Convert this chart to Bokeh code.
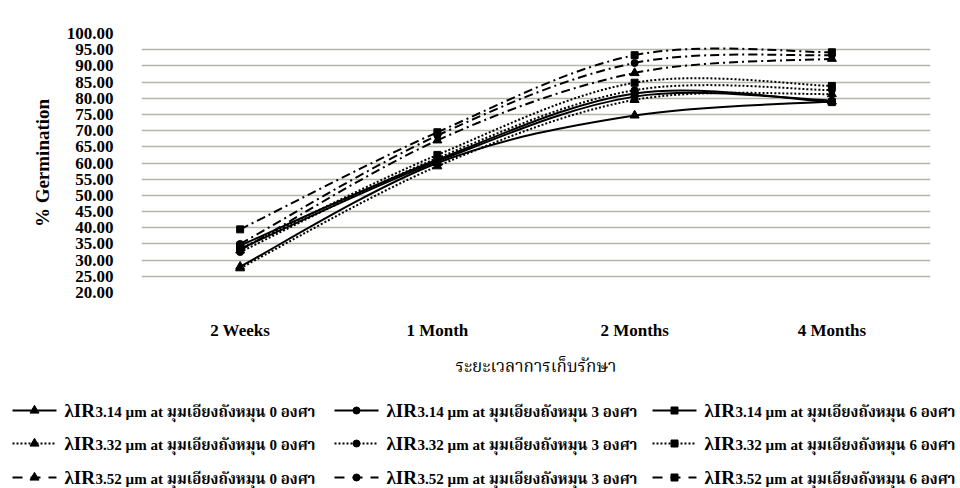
from bokeh.plotting import figure
from bokeh.models import Range1d, FixedTicker, NumeralTickFormatter
from bokeh.embed import file_html
from bokeh.resources import INLINE
from bokeh.core.properties import value

# Storage periods (categories) and their positions on the x axis
periods = ["2 Weeks", "1 Month", "2 Months", "4 Months"]
period_pos = [0.5, 1.5, 2.5, 3.5]

# % germination for each wavelength / drum tilt angle
g314_0 = [28.0, 60.0, 74.7, 79.0]
g314_3 = [33.5, 60.5, 80.5, 79.3]
g314_6 = [34.5, 61.0, 81.5, 78.8]
g332_0 = [27.5, 59.0, 79.5, 81.3]
g332_3 = [32.5, 61.5, 82.5, 82.5]
g332_6 = [33.5, 62.5, 84.8, 83.8]
g352_0 = [33.0, 67.0, 87.8, 92.2]
g352_3 = [35.0, 68.5, 90.9, 93.3]
g352_6 = [39.5, 69.5, 93.3, 94.2]

wavelengths = ["3.14", "3.32", "3.52"]
angles = ["0", "3", "6"]
series = [
    [g314_0, g314_3, g314_6],
    [g332_0, g332_3, g332_6],
    [g352_0, g352_3, g352_6],
]

y_ticks = [20 + 5 * i for i in range(17)]

SERIF = "Liberation Serif"
THAI = "'Liberation Serif', 'Noto Serif Thai', 'Noto Sans Thai', 'Loma', 'Garuda', sans-serif"

dash_by_wl = ["solid", "2 2", "9 4 2 4"]
legend_dash = ["solid", "2 2", "10 8"]
marker_by_angle = ["triangle", "circle", "square"]
marker_size = [9, 7, 7]


def smooth_segments(xs, ys):
    """Cubic Bezier pieces through the points (Catmull-Rom tangents)."""
    n = len(xs)
    out = dict(x0=[], y0=[], x1=[], y1=[], cx0=[], cy0=[], cx1=[], cy1=[])
    for i in range(n - 1):
        a = max(i - 1, 0)
        d = min(i + 2, n - 1)
        out["x0"].append(xs[i]); out["y0"].append(ys[i])
        out["x1"].append(xs[i + 1]); out["y1"].append(ys[i + 1])
        out["cx0"].append(xs[i] + (xs[i + 1] - xs[a]) / 6.0)
        out["cy0"].append(ys[i] + (ys[i + 1] - ys[a]) / 6.0)
        out["cx1"].append(xs[i + 1] - (xs[d] - xs[i]) / 6.0)
        out["cy1"].append(ys[i + 1] - (ys[d] - ys[i]) / 6.0)
    return out


p = figure(width=960, height=392, x_range=Range1d(0, 4), y_range=Range1d(20, 100),
           output_backend="svg", toolbar_location=None,
           min_border_left=141, min_border_right=30, min_border_top=33, min_border_bottom=100)
p.outline_line_color = None
p.background_fill_color = "white"
p.border_fill_color = "white"

p.xgrid.grid_line_color = None
p.ygrid.ticker = FixedTicker(ticks=y_ticks)
p.ygrid.grid_line_color = "#b4b4ac"
p.ygrid.grid_line_width = 1.4

p.yaxis.ticker = FixedTicker(ticks=y_ticks)
p.yaxis.formatter = NumeralTickFormatter(format="0.00")
p.yaxis.axis_line_color = None
p.yaxis.major_tick_line_color = None
p.yaxis.minor_tick_line_color = None
p.yaxis.major_label_standoff = 22
p.yaxis.major_label_text_font = SERIF
p.yaxis.major_label_text_font_style = "bold"
p.yaxis.major_label_text_font_size = "17px"
p.yaxis.major_label_text_color = "black"
p.yaxis.axis_label = "% Germination"
p.yaxis.axis_label_text_font = SERIF
p.yaxis.axis_label_text_font_style = "bold"
p.yaxis.axis_label_text_font_size = "19px"
p.yaxis.axis_label_text_color = "black"
p.yaxis.axis_label_standoff = 11

p.xaxis.ticker = FixedTicker(ticks=period_pos)
p.xaxis.major_label_overrides = {pos: lab for pos, lab in zip(period_pos, periods)}
p.xaxis.axis_line_color = None
p.xaxis.major_tick_line_color = None
p.xaxis.minor_tick_line_color = None
p.xaxis.major_label_standoff = 22
p.xaxis.major_label_text_font = SERIF
p.xaxis.major_label_text_font_style = "bold"
p.xaxis.major_label_text_font_size = "17px"
p.xaxis.major_label_text_color = "black"
p.xaxis.axis_label = "ระยะเวลาการเก็บรักษา"
p.xaxis.axis_label_text_font = THAI
p.xaxis.axis_label_text_font_style = "normal"
p.xaxis.axis_label_text_font_size = "17px"
p.xaxis.axis_label_text_color = "black"
p.xaxis.axis_label_standoff = 14

for wi, group in enumerate(series):
    for ai, vals in enumerate(group):
        seg = smooth_segments(period_pos, vals)
        p.bezier(x0=seg["x0"], y0=seg["y0"], x1=seg["x1"], y1=seg["y1"],
                 cx0=seg["cx0"], cy0=seg["cy0"], cx1=seg["cx1"], cy1=seg["cy1"],
                 line_color="black", line_width=2, line_dash=dash_by_wl[wi])
        p.scatter(period_pos, vals, marker=marker_by_angle[ai], size=marker_size[ai],
                  fill_color="black", line_color="black")

# Legend panel: three rows (wavelengths) by three columns (tilt angles)
leg = figure(width=960, height=96, x_range=Range1d(0, 960), y_range=Range1d(96, 0),
             output_backend="svg", toolbar_location=None, min_border=0)
leg.axis.visible = False
leg.grid.grid_line_color = None
leg.outline_line_color = None
leg.background_fill_color = "white"
leg.border_fill_color = "white"

col_x = [12, 334, 652]
text_x = [64, 386, 704]
row_y = [18, 51, 85]
for wi in range(3):
    for ai in range(3):
        x0 = col_x[ai]
        y = row_y[wi]
        leg.line([x0, x0 + 44], [y, y], line_color="black", line_width=2,
                 line_dash=legend_dash[wi])
        leg.scatter([x0 + 22], [y], marker=marker_by_angle[ai], size=marker_size[ai],
                    fill_color="black", line_color="black")
        leg.text([text_x[ai]], [y], text=["λIR"], text_font=value(SERIF),
                 text_font_style="bold", text_font_size="19px",
                 text_baseline="middle", text_color="black")
        leg.text([text_x[ai] + 31], [y + 1],
                 text=[f"{wavelengths[wi]} µm at มุมเอียงถังหมุน {angles[ai]} องศา"],
                 text_font=value(THAI), text_font_style="bold", text_font_size="15px",
                 text_baseline="middle", text_color="black")

open("out.html", "w").write(file_html([p, leg], INLINE))
